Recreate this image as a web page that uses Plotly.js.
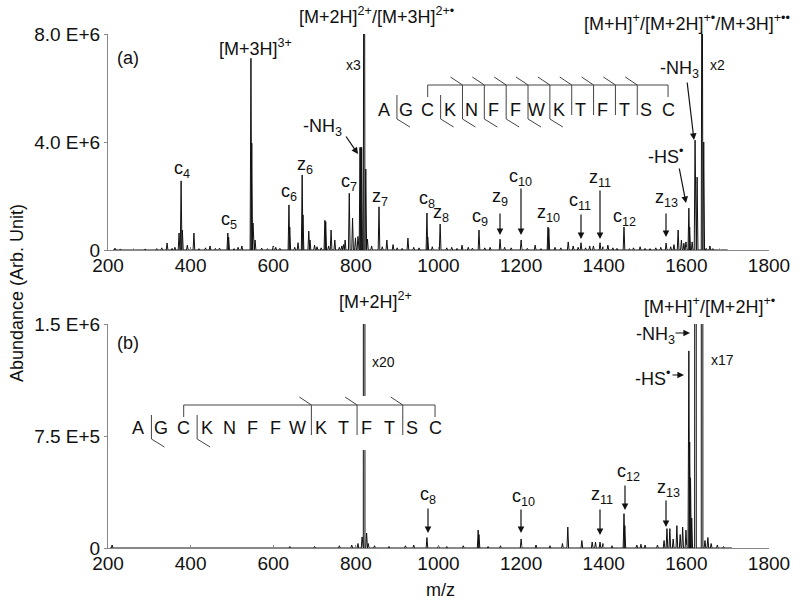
<!DOCTYPE html>
<html>
<head>
<meta charset="utf-8">
<script src="https://cdn.plot.ly/plotly-3.0.1.min.js"></script>
<style>
  body { margin: 0; background: #fff; }
  #chart { width: 800px; height: 605px; }
</style>
</head>
<body>
<div id="chart"></div>
<script>
// panel (a): peak m/z and abundance (in millions)
var topMz = [217, 230, 262, 290, 318, 330, 343, 355, 362, 372, 377, 380, 392, 408, 420, 436, 447, 460, 470,
  490, 492, 505, 515, 524, 546, 548, 551, 556, 572, 586, 600, 606, 616, 638, 640, 652, 660, 670, 672, 686, 689,
  700, 706, 716, 725, 727, 734, 740, 749, 760, 766, 770, 774, 784, 792, 799, 805, 810, 812, 814, 820, 824, 828,
  838, 856, 864, 875, 890, 900, 912, 926, 940, 953, 972, 974, 985, 1004, 1020, 1032, 1045, 1057, 1072, 1082,
  1098, 1112, 1125, 1149, 1160, 1176, 1200, 1215, 1234, 1248, 1265, 1267, 1282, 1296, 1314, 1326, 1338, 1345,
  1356, 1366, 1375, 1391, 1398, 1410, 1422, 1432, 1449, 1462, 1472, 1488, 1500, 1512, 1526, 1538, 1551, 1562,
  1570, 1580, 1588, 1594, 1599, 1606, 1608, 1614, 1621, 1626, 1638, 1642, 1648, 1657, 1664, 1680];
var topAbund = [0.07, 0.04, 0.03, 0.04, 0.05, 0.08, 0.26, 0.06, 0.10, 0.63, 2.56, 0.74, 0.18, 0.63, 0.05, 0.08, 0.15, 0.06, 0.07,
  0.63, 0.48, 0.05, 0.10, 0.15, 7.10, 3.96, 1.00, 0.37, 0.07, 0.05, 0.15, 0.10, 0.06, 1.67, 0.85, 0.10, 0.27, 2.78, 1.30, 0.70, 0.37,
  0.18, 0.12, 0.08, 1.10, 1.05, 0.15, 0.74, 0.37, 0.10, 0.15, 0.20, 0.37, 2.10, 1.18, 0.45, 0.50, 3.80, 3.80, 3.80, 24.0, 3.00, 0.40,
  0.15, 1.60, 0.12, 0.37, 0.20, 0.08, 0.06, 0.44, 0.10, 0.08, 1.37, 0.48, 0.12, 0.96, 0.08, 0.10, 0.06, 0.18, 0.10, 0.07,
  0.74, 0.08, 0.10, 0.40, 0.10, 0.08, 0.37, 0.06, 0.18, 0.05, 0.85, 0.80, 0.10, 0.08, 0.30, 0.15, 0.10, 0.27,
  0.08, 0.15, 0.15, 0.27, 0.12, 0.18, 0.08, 0.06, 0.85, 0.05, 0.08, 0.12, 0.06, 0.05, 0.08, 0.10, 0.26, 0.12,
  0.20, 0.74, 0.37, 0.25, 0.30, 1.55, 0.85, 0.30, 4.07, 2.70, 16.0, 4.00, 0.06, 0.15, 0.05, 0.03];

// panel (b): peak m/z and abundance (in millions)
var botMz = [210, 640, 700, 760, 790, 805, 815, 820, 826, 830, 845, 880, 920, 940, 972, 1000, 1020, 1060, 1096, 1098,
  1120, 1150, 1200, 1236, 1270, 1300, 1313, 1347, 1372, 1380, 1391, 1398, 1420, 1449, 1451, 1480, 1490, 1500,
  1530, 1546, 1553, 1560, 1568, 1577, 1585, 1591, 1599, 1606, 1608, 1610, 1613, 1622, 1638, 1645, 1652, 1660, 1675, 1690];
var botAbund = [0.02, 0.01, 0.01, 0.015, 0.02, 0.03, 0.074, 30.0, 0.10, 0.03, 0.015, 0.01, 0.015, 0.02, 0.07, 0.015, 0.01, 0.015, 0.12, 0.09,
  0.01, 0.015, 0.06, 0.02, 0.015, 0.03, 0.14, 0.05, 0.04, 0.04, 0.04, 0.03, 0.015, 0.23, 0.15, 0.02, 0.025, 0.02,
  0.02, 0.05, 0.13, 0.13, 0.06, 0.15, 0.09, 0.14, 0.12, 1.32, 0.71, 0.47, 0.20, 25.5, 25.5, 0.05, 0.07, 0.03, 0.02, 0.01];

var xTicks = [200, 400, 600, 800, 1000, 1200, 1400, 1600, 1800];
var topYTicks = [0, 4e6, 8e6];
var topYText = ['0', '4.0 E+6', '8.0 E+6'];
var botYTicks = [0, 7.5e5, 1.5e6];
var botYText = ['0', '7.5 E+5', '1.5 E+6'];

var sequence = ['A', 'G', 'C', 'K', 'N', 'F', 'F', 'W', 'K', 'T', 'F', 'T', 'S', 'C'];
// cleavage after residue i (0-based)
var topZCuts = [3, 4, 5, 6, 7, 8, 9, 10, 11];
var topCCuts = [0, 2, 3, 4, 5, 6, 7];
var botZCuts = [7, 9, 11];
var botCCuts = [0, 2];

var FONT = 'Liberation Sans, Arial, sans-serif';
var M = { l: 108, r: 31, t: 34, b: 57 };
var PW = 800 - M.l - M.r, PH = 605 - M.t - M.b;
function px(x) { return (x - M.l) / PW; }
function py(y) { return 1 - (y - M.t) / PH; }

function stickTrace(mz, ab, xa, ya) {
  var idx = mz.map(function (v, i) { return i; }).sort(function (a, b) { return mz[a] - mz[b]; });
  var hw = 2;
  var xs = [mz[idx[0]] - 5], ys = [0];
  idx.forEach(function (i) {
    xs.push(mz[i] - hw, mz[i], mz[i] + hw);
    ys.push(0, ab[i] * 1e6, 0);
  });
  xs.push(mz[idx[idx.length - 1]] + 20); ys.push(0);
  return {
    x: xs, y: ys, xaxis: xa, yaxis: ya, type: 'scatter', mode: 'lines',
    line: { color: '#111', width: 1 }, hoverinfo: 'skip', showlegend: false
  };
}

function lab(text, x, y, size) {
  return {
    text: text, x: px(x), y: py(y), xref: 'paper', yref: 'paper', showarrow: false,
    xanchor: 'center', yanchor: 'middle', font: { family: FONT, size: size || 18, color: '#111' }
  };
}
function arr(x1, y1, x2, y2) {
  return {
    text: '', x: px(x2), y: py(y2), xref: 'paper', yref: 'paper', showarrow: true,
    ax: x1 - x2, ay: y1 - y2, arrowhead: 2, arrowsize: 1.1, arrowwidth: 1.2, arrowcolor: '#111'
  };
}
function seg(x0, y0, x1, y1, color) {
  return {
    type: 'line', xref: 'paper', yref: 'paper', x0: px(x0), y0: py(y0), x1: px(x1), y1: py(y1),
    line: { color: color || '#444', width: 1 }
  };
}

// sequence map with fragment cut marks
function seqMap(x0, step, yText, yBr, zCuts, cCuts, shapes, annos) {
  var xs = sequence.map(function (s, i) { return x0 + step * i; });
  sequence.forEach(function (s, i) { annos.push(lab(s, xs[i], yText, 18)); });
  var cL = xs[2], cR = xs[13];
  shapes.push(seg(cL, yBr, cR, yBr));
  shapes.push(seg(cL, yBr, cL, yBr + 12));
  shapes.push(seg(cR, yBr, cR, yBr + 12));
  var cuts = {};
  zCuts.forEach(function (c) { cuts[c] = (cuts[c] || '') + 'z'; });
  cCuts.forEach(function (c) { cuts[c] = (cuts[c] || '') + 'c'; });
  Object.keys(cuts).forEach(function (k) {
    var i = +k, bx = (xs[i] + xs[i + 1]) / 2 + 2;
    var hasZ = cuts[k].indexOf('z') >= 0, hasC = cuts[k].indexOf('c') >= 0;
    var top = hasZ ? yBr : yBr + 10, bot = hasC ? yBr + 34 : yBr + 30;
    shapes.push(seg(bx, top, bx, bot));
    if (hasZ) shapes.push(seg(bx - 12, yBr - 8, bx, yBr));
    if (hasC) shapes.push(seg(bx, bot, bx + 13, bot + 8));
  });
}

var shapes = [
  { type: 'rect', xref: 'paper', yref: 'paper', x0: px(125), x1: px(450), y0: py(396), y1: py(450),
    fillcolor: '#fff', line: { width: 0 }, layer: 'above' }
];
var annos = [
  lab('(a)', 128, 58), lab('(b)', 128, 343),
  lab('[M+3H]<sup>3+</sup>', 255, 47),
  lab('[M+2H]<sup>2+</sup>/[M+3H]<sup>2+•</sup>', 376, 16),
  lab('x3', 353, 65, 14),
  lab('-NH<sub>3</sub>', 322, 127), arr(345, 135, 358, 154),
  lab('c<sub>4</sub>', 182, 170), lab('c<sub>5</sub>', 229, 220), lab('c<sub>6</sub>', 289, 192),
  lab('z<sub>6</sub>', 305, 165), lab('c<sub>7</sub>', 349, 182), lab('z<sub>7</sub>', 380, 197),
  lab('c<sub>8</sub>', 427, 200), lab('z<sub>8</sub>', 441, 213), lab('c<sub>9</sub>', 480, 217),
  lab('z<sub>9</sub>', 500, 197), arr(500, 212, 500, 235),
  lab('c<sub>10</sub>', 520, 177), arr(521, 187, 521, 235),
  lab('z<sub>10</sub>', 548, 213),
  lab('c<sub>11</sub>', 580, 202), arr(581, 213, 581, 239),
  lab('z<sub>11</sub>', 600, 178), arr(600, 189, 600, 239),
  lab('c<sub>12</sub>', 624, 217),
  lab('z<sub>13</sub>', 666, 199), arr(666, 212, 666, 237),
  lab('-HS<sup>•</sup>', 665, 155), arr(679, 167, 686, 203),
  lab('-NH<sub>3</sub>', 679, 70), arr(687, 81, 694, 140),
  lab('x2', 717, 65, 14),
  lab('[M+H]<sup>+</sup>/[M+2H]<sup>+•</sup>/M+3H]<sup>+••</sup>', 687, 22),

  lab('[M+2H]<sup>2+</sup>', 375, 300),
  lab('x20', 383, 362, 14),
  lab('[M+H]<sup>+</sup>/[M+2H]<sup>+•</sup>', 709, 305),
  lab('-NH<sub>3</sub>', 655, 335), arr(674, 333, 690, 333),
  lab('-HS<sup>•</sup>', 652, 377), arr(671, 375, 684, 375),
  lab('x17', 722, 360, 14),
  lab('c<sub>8</sub>', 428, 495), arr(428, 507, 428, 533),
  lab('c<sub>10</sub>', 523, 497), arr(521, 508, 521, 533),
  lab('z<sub>11</sub>', 602, 495), arr(600, 508, 600, 535),
  lab('c<sub>12</sub>', 628, 472), arr(625, 484, 625, 510),
  lab('z<sub>13</sub>', 668, 488), arr(666, 499, 666, 527),

  { text: 'Abundance (Arb. Unit)', x: px(17), y: py(293), xref: 'paper', yref: 'paper', showarrow: false,
    xanchor: 'center', yanchor: 'middle', textangle: -90,
    font: { family: FONT, size: 18, color: '#111' } },
  lab('m/z', 440, 590)
];
seqMap(384, 21.85, 110, 85, topZCuts, topCCuts, shapes, annos);
seqMap(138, 22.85, 428, 405, botZCuts, botCCuts, shapes, annos);

function xAxis(anchor) {
  return {
    anchor: anchor, domain: [0, 1], range: [200, 1800], tickvals: xTicks,
    showline: true, linecolor: '#888', linewidth: 1, ticks: 'inside', ticklen: 3, tickcolor: '#888',
    ticklabelstandoff: -2,
    showgrid: false, zeroline: false, tickfont: { family: FONT, size: 19, color: '#111' }
  };
}
function yAxis(anchor, dom, top, vals, txt) {
  return {
    anchor: anchor, domain: dom, range: [0, top], tickvals: vals, ticktext: txt,
    showline: true, linecolor: '#888', linewidth: 1, ticks: 'outside', ticklen: 3, tickcolor: '#888',
    showgrid: false, zeroline: false, tickfont: { family: FONT, size: 19, color: '#111' }
  };
}

var data = [
  stickTrace(topMz, topAbund, 'x', 'y'),
  stickTrace(botMz, botAbund, 'x2', 'y2')
];

var layout = {
  width: 800, height: 605,
  margin: M,
  paper_bgcolor: '#fff', plot_bgcolor: '#fff',
  showlegend: false,
  xaxis: xAxis('y'),
  yaxis: yAxis('x', [py(250), 1], 8e6, topYTicks, topYText),
  xaxis2: xAxis('y2'),
  yaxis2: yAxis('x2', [0, py(324)], 1.5e6, botYTicks, botYText),
  shapes: shapes,
  annotations: annos
};

Plotly.newPlot('chart', data, layout, { staticPlot: true });
</script>
</body>
</html>
